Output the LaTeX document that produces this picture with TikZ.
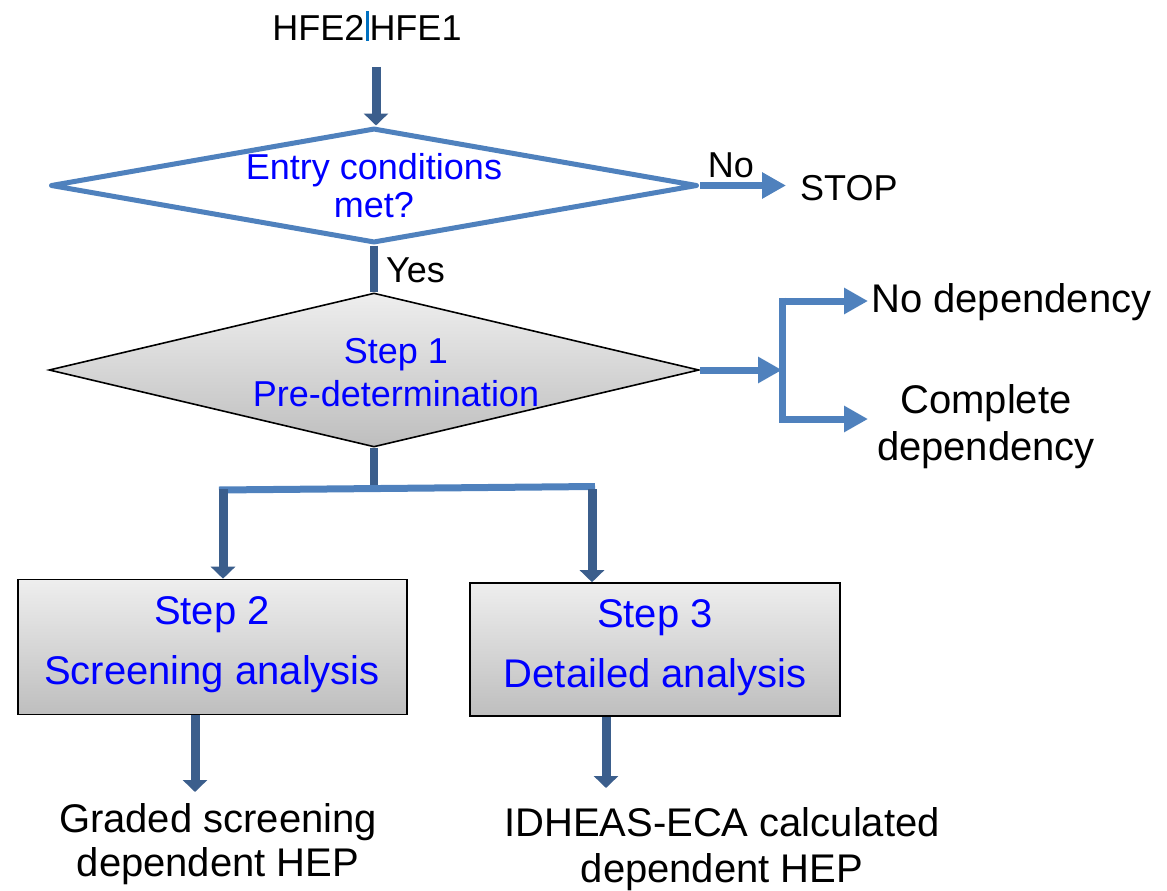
\documentclass[tikz,border=0pt]{standalone}
\usepackage{fontspec}
\setmainfont{Liberation Sans}
\usetikzlibrary{shapes.geometric,arrows.meta}
\definecolor{lblue}{RGB}{79,129,189}
\definecolor{dblue}{RGB}{59,94,140}
\definecolor{txtblue}{RGB}{0,0,255}
\definecolor{barblue}{RGB}{0,112,192}
\definecolor{gtop}{RGB}{238,238,238}
\definecolor{gbot}{RGB}{190,190,190}
\tikzset{
  lbl/.style={inner sep=0pt, font=\fontsize{36}{44}\selectfont, align=center, text=black},
  biglbl/.style={inner sep=0pt, font=\fontsize{40}{46}\selectfont, align=center, text=black},
  steptxt/.style={inner sep=0pt, text=txtblue, align=center},
  graybox/.style={draw=black, line width=1.6pt, top color=gtop, bottom color=gbot, rectangle, inner sep=0pt},
  lightarrow/.style={draw=lblue, line width=7pt, -{Triangle[width=25pt,length=24pt]}},
  darkarrow/.style={draw=dblue, line width=9pt, -{Triangle[width=24pt,length=12pt]}},
  darkline/.style={draw=dblue, line width=8pt},
  lightline/.style={draw=lblue, line width=7pt},
}
\begin{document}
\begin{tikzpicture}[x=1pt,y=-1pt]
\useasboundingbox (0,0) rectangle (1167,891);
% title
\node[lbl] (hfe) at (367,26) {HFE2\hspace{1pt}\textcolor{barblue}{\rule[0pt]{3pt}{30pt}}\hspace{1pt}HFE1};
\coordinate (a0) at (376,67);
% diamond 1
\node[diamond, draw=lblue, line width=5pt, line join=round, fill=white, minimum width=647pt, minimum height=115pt, inner sep=0pt] (d1) at (374,185.5) {};
\node[steptxt, font=\fontsize{36}{38}\selectfont] (d1t) at (374,186) {Entry conditions\\met?};
\draw[darkarrow] (a0) -- (d1.north -| a0);
% stop
\node[lbl, anchor=west] (stop) at (800,188) {STOP};
\draw[lightarrow] (d1.east) -- ([xshift=-14pt]stop.west |- d1.east);
\node[lbl] (no) at (731,165) {No};
% diamond 2
\node[diamond, draw=black, line width=1.6pt, top color=gtop, bottom color=gbot, minimum width=650pt, minimum height=154pt, inner sep=0pt] (d2) at (374,370) {};
\node[steptxt, font=\fontsize{36}{43}\selectfont] (d2t) at (396,373) {Step 1\\Pre-determination};
\draw[darkline] (d1.south) -- (d2.north -| d1.south);
\node[lbl, anchor=west] (yes) at (386,270) {Yes};
% right branch
\coordinate (br) at (782,370);
\coordinate (bt) at (782,297.5);
\coordinate (bb) at (782,422.5);
\draw[lightarrow] (d2.east) -- (br);
\draw[lightline] (bt) -- (bb);
\node[biglbl, anchor=west] (nodep) at (871,302) {No dependency};
\node[biglbl, font=\fontsize{40}{47}\selectfont] (cdep) at (986,427) {Complete\\dependency};
\coordinate (ct) at (868,419);
\coordinate (nt) at (868,301);
\draw[lightarrow] ([yshift=-3.5pt]bt) -- (nt);
\draw[lightarrow] ([yshift=3.5pt]bb) -- (ct);
% boxes
\node[graybox, minimum width=389pt, minimum height=135pt] (s2) at (212.5,647) {};
\node[steptxt, font=\fontsize{40}{60}\selectfont] (s2t) at (212,645) {Step 2\\Screening analysis};
\node[graybox, minimum width=370pt, minimum height=133pt] (s3) at (655,649.5) {};
\node[steptxt, font=\fontsize{40}{60}\selectfont] (s3t) at (655,648) {Step 3\\Detailed analysis};
% split
\coordinate (sj) at (374,489);
\coordinate (sl) at (223,489);
\coordinate (sr) at (592,489);
\draw[darkline] (d2.south) -- (sj);
\draw[lightline] (219,490) -- (595,486.5);
\draw[darkarrow] (sl) -- (s2.north -| sl);
\draw[darkarrow] (sr) -- (s3.north -| sr);
% outputs
\node[biglbl, font=\fontsize{40}{44}\selectfont] (g1) at (218,844) {Graded screening\\dependent HEP};
\node[biglbl] (g2) at (722,849) {IDHEAS-ECA calculated\\dependent HEP};
\coordinate (o1) at (195,792);
\coordinate (o2) at (606,788);
\draw[darkarrow] (s2.south -| o1) -- (o1);
\draw[darkarrow] (s3.south -| o2) -- (o2);
\end{tikzpicture}
\end{document}
